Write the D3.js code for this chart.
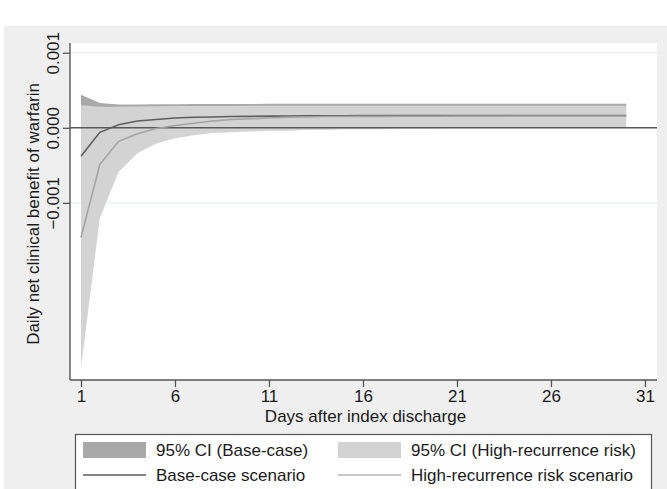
<!DOCTYPE html>
<html>
<head>
<meta charset="utf-8" />
<script src="https://d3js.org/d3.v7.min.js"></script>
<style>
  body { margin: 0; background: #fff; }
  text { font-family: "Liberation Sans", Arial, sans-serif; fill: #1a1a1a; }
</style>
</head>
<body>
<svg id="chart" width="667" height="489"></svg>
<script>
// days after discharge
const days = [1,2,3,4,5,6,7,8,9,10,11,12,13,14,15,16,17,18,19,20,21,22,23,24,25,26,27,28,29,30];

// base-case scenario
const baseLine  = [-0.00038,-0.00006,0.00004,0.00009,0.00011,0.00013,0.00014,0.000145,0.00015,0.000153,0.000156,0.000158,0.00016,0.00016,0.000161,0.000162,0.000162,0.000163,0.000163,0.000163,0.000164,0.000164,0.000164,0.000164,0.000164,0.000164,0.000164,0.000164,0.000164,0.000164];
const baseLower = [-0.0012,-0.00045,-0.0002,-0.00006,0.00001,0.00004,0.00006,0.00007,0.00008,0.00008,0.00009,0.00009,0.00009,0.0001,0.0001,0.0001,0.0001,0.0001,0.0001,0.0001,0.0001,0.0001,0.0001,0.0001,0.0001,0.0001,0.0001,0.0001,0.0001,0.0001];
const baseUpper = [0.00044,0.00033,0.00031,0.000312,0.000314,0.000315,0.000316,0.000317,0.000318,0.000318,0.000319,0.000319,0.00032,0.00032,0.00032,0.00032,0.00032,0.00032,0.00032,0.00032,0.00032,0.00032,0.00032,0.00032,0.00032,0.00032,0.00032,0.00032,0.00032,0.00032];

// high-recurrence risk scenario
const highLine  = [-0.00146,-0.00049,-0.00018,-0.00008,-0.00001,0.00003,0.00006,0.00009,0.00011,0.00012,0.00013,0.00014,0.000145,0.00015,0.00015,0.000152,0.000153,0.000154,0.000155,0.000155,0.000156,0.000156,0.000156,0.000157,0.000157,0.000157,0.000157,0.000158,0.000158,0.000158];
const highLower = [-0.0032,-0.0012,-0.00059,-0.00034,-0.00021,-0.00014,-0.0001,-0.00007,-0.00006,-0.00005,-0.00004,-0.00004,-0.00003,-0.00003,-0.00002,-0.00002,-0.00002,-0.00001,-0.00001,-0.000005,0,0,0.000005,0.000005,0.000005,0.00001,0.00001,0.00001,0.00001,0.00001];
const highUpper = [0.0003,0.00028,0.00028,0.000285,0.000288,0.00029,0.00029,0.000291,0.000292,0.000293,0.000293,0.000294,0.000294,0.000295,0.000295,0.000295,0.000295,0.000295,0.000295,0.000295,0.000295,0.000295,0.000295,0.000295,0.000295,0.000295,0.000295,0.000295,0.000295,0.000295];

const xTicks = [1,6,11,16,21,26,31];
const yTicks = [-0.001,0,0.001];
const legendItems = ["95% CI (Base-case)","95% CI (High-recurrence risk)","Base-case scenario","High-recurrence risk scenario"];

const svg = d3.select("#chart");
const fs = 17;

// outer graph region
svg.append("rect").attr("x", 4).attr("y", 26).attr("width", 663).attr("height", 463).attr("fill", "#efefef");

const plot = { left: 70, right: 657, top: 43, bottom: 380 };
svg.append("rect")
  .attr("x", plot.left).attr("y", plot.top)
  .attr("width", plot.right - plot.left).attr("height", plot.bottom - plot.top)
  .attr("fill", "#fff");

const x = d3.scaleLinear().domain([0.415, 31.64]).range([plot.left, plot.right]);
const y = d3.scaleLinear().domain([-0.00336, 0.00113]).range([plot.bottom, plot.top]);

// grid lines
svg.append("g").selectAll("line").data(yTicks).join("line")
  .attr("x1", plot.left).attr("x2", plot.right)
  .attr("y1", d => y(d)).attr("y2", d => y(d))
  .attr("stroke", "#e3ecf2").attr("stroke-width", 1);

const area = (lo, hi) => d3.area()
  .x((d, i) => x(days[i]))
  .y0((d, i) => y(lo[i]))
  .y1((d, i) => y(hi[i]))(days);

svg.append("path").attr("d", area(baseLower, baseUpper)).attr("fill", "#a9a9a9");
svg.append("path").attr("d", area(highLower, highUpper)).attr("fill", "#d3d3d3");

// reference line at zero
svg.append("line")
  .attr("x1", plot.left).attr("x2", plot.right)
  .attr("y1", y(0)).attr("y2", y(0))
  .attr("stroke", "#5a5a5a").attr("stroke-width", 1.6);

const line = vals => d3.line().x((d, i) => x(days[i])).y((d, i) => y(vals[i]))(days);

svg.append("path").attr("d", line(baseLine)).attr("fill", "none").attr("stroke", "#5e5e5e").attr("stroke-width", 1.6);
svg.append("path").attr("d", line(highLine)).attr("fill", "none").attr("stroke", "#a3a3a3").attr("stroke-width", 1.6);

// axes
const xAxis = svg.append("g").attr("transform", `translate(0,${plot.bottom})`)
  .call(d3.axisBottom(x).tickValues(xTicks).tickSize(7).tickPadding(3).tickFormat(d3.format("d")));
const yAxis = svg.append("g").attr("transform", `translate(${plot.left},0)`)
  .call(d3.axisLeft(y).tickValues(yTicks).tickSize(7).tickPadding(5).tickFormat(d3.format(".3f")));

[xAxis, yAxis].forEach(a => {
  a.select(".domain").attr("stroke", "#555").attr("stroke-width", 1.4);
  a.selectAll(".tick line").attr("stroke", "#555").attr("stroke-width", 1.3);
  a.selectAll(".tick text").attr("font-size", fs).attr("fill", "#1a1a1a")
    .attr("font-family", "'Liberation Sans', Arial, sans-serif");
});
xAxis.select(".domain").attr("d", `M${plot.left},0H${plot.right}`);
yAxis.select(".domain").attr("d", `M0,${plot.top}V${plot.bottom}`);

yAxis.selectAll(".tick text")
  .attr("x", null).attr("dy", null)
  .attr("text-anchor", "middle")
  .attr("transform", "translate(-11.5,0) rotate(-90)");

svg.append("text").attr("x", (plot.left + plot.right) / 2 + 2).attr("y", 422)
  .attr("text-anchor", "middle").attr("font-size", fs).text("Days after index discharge");

svg.append("text").attr("transform", `translate(39,214) rotate(-90)`)
  .attr("text-anchor", "middle").attr("font-size", fs).text("Daily net clinical benefit of warfarin");

// legend
const lg = svg.append("g");
lg.append("rect").attr("x", 75.5).attr("y", 434.5).attr("width", 576).attr("height", 60)
  .attr("fill", "#fff").attr("stroke", "#555").attr("stroke-width", 1.2);

const cols = [83, 338];
const rows = [450, 475];
const items = [
  { label: legendItems[0], type: "area", color: "#a9a9a9", col: 0, row: 0 },
  { label: legendItems[1], type: "area", color: "#d3d3d3", col: 1, row: 0 },
  { label: legendItems[2], type: "line", color: "#5e5e5e", col: 0, row: 1 },
  { label: legendItems[3], type: "line", color: "#b5b5b5", col: 1, row: 1 }
];
items.forEach(it => {
  const cx = cols[it.col], cy = rows[it.row];
  if (it.type === "area") {
    lg.append("rect").attr("x", cx).attr("y", cy - 8).attr("width", 63).attr("height", 16).attr("fill", it.color);
  } else {
    lg.append("line").attr("x1", cx).attr("x2", cx + 63).attr("y1", cy).attr("y2", cy)
      .attr("stroke", it.color).attr("stroke-width", 1.6);
  }
  lg.append("text").attr("x", cx + 73).attr("y", cy + 6).attr("font-size", fs).text(it.label);
});
</script>
</body>
</html>
